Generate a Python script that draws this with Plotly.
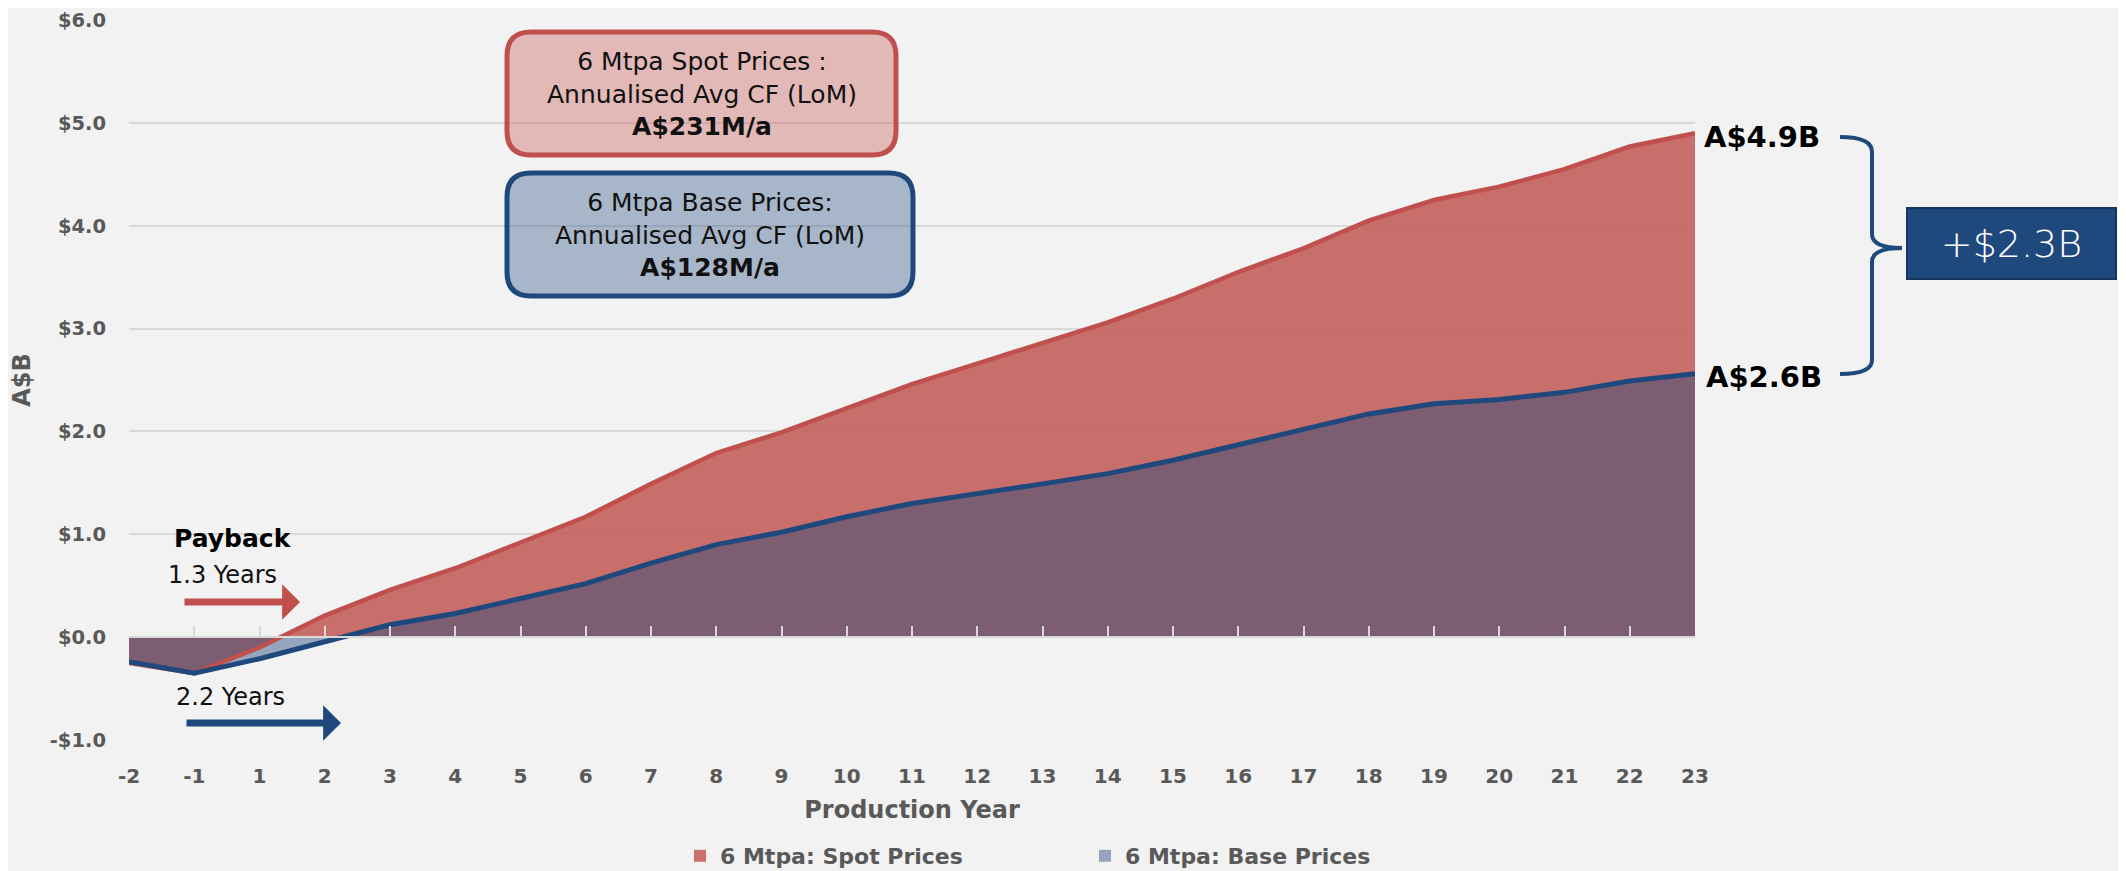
import plotly.graph_objects as go

years = ["-2", "-1", "1", "2", "3", "4", "5", "6", "7", "8", "9", "10", "11", "12",
         "13", "14", "15", "16", "17", "18", "19", "20", "21", "22", "23"]
spot = [-0.25, -0.35, -0.10, 0.21, 0.46, 0.67, 0.92, 1.17, 1.49, 1.79, 1.99, 2.22, 2.46,
        2.66, 2.86, 3.06, 3.29, 3.55, 3.78, 4.05, 4.25, 4.38, 4.55, 4.77, 4.90]
base = [-0.24, -0.35, -0.21, -0.04, 0.12, 0.23, 0.37, 0.52, 0.72, 0.90, 1.02, 1.17, 1.30,
        1.39, 1.49, 1.59, 1.72, 1.87, 2.02, 2.17, 2.27, 2.31, 2.38, 2.49, 2.56]
ytick_vals = [-1, 0, 1, 2, 3, 4, 5, 6]
ytick_text = ["-$1.0", "$0.0", "$1.0", "$2.0", "$3.0", "$4.0", "$5.0", "$6.0"]
spot_name = "6 Mtpa: Spot Prices"
base_name = "6 Mtpa: Base Prices"
spot_label = "A$4.9B"
base_label = "A$2.6B"
diff_label = "+$2.3B"
spot_box = "6 Mtpa Spot Prices :<br>Annualised Avg CF (LoM)<br><b>A$231M/a</b>"
base_box = "6 Mtpa Base Prices:<br>Annualised Avg CF (LoM)<br><b>A$128M/a</b>"

# page offset (browser body margin) compensation
OFF = 8
W, H = 2126 - OFF, 871 - OFF
L, R, T, B = 129 - OFF, 1695 - OFF, 20 - OFF, 740 - OFF
FONT = "DejaVu Sans"
GRAY = "#595959"
RED = "#C0504D"
BLUE = "#1F497D"


def px(x):
    return (x - OFF - L) / (R - L)


def py(y):
    return (B - (y - OFF)) / (B - T)


def pt(x, y):
    return f"{px(x):.5f},{py(y):.5f}"


def rrect(x0, y0, x1, y1, r):
    return (f"M{pt(x0 + r, y0)} L{pt(x1 - r, y0)} Q{pt(x1, y0)} {pt(x1, y0 + r)} "
            f"L{pt(x1, y1 - r)} Q{pt(x1, y1)} {pt(x1 - r, y1)} L{pt(x0 + r, y1)} "
            f"Q{pt(x0, y1)} {pt(x0, y1 - r)} L{pt(x0, y0 + r)} Q{pt(x0, y0)} {pt(x0 + r, y0)} Z")


def txt(x, y, text, size, color="#111111", **kw):
    d = dict(xref="paper", yref="paper", x=px(x), y=py(y), text=text, showarrow=False,
             xanchor="center", yanchor="middle",
             font=dict(family=FONT, size=size, color=color))
    d.update(kw)
    return d


fig = go.Figure()
fig.add_trace(go.Scatter(x=years, y=spot, mode="none", fill="tozeroy",
                         fillcolor="rgba(196,99,96,0.92)", showlegend=False, hoverinfo="skip"))
fig.add_trace(go.Scatter(x=years, y=base, mode="none", fill="tozeroy",
                         fillcolor="rgba(31,73,125,0.45)", showlegend=False, hoverinfo="skip"))
fig.add_trace(go.Scatter(x=years, y=spot, mode="lines", line=dict(color=RED, width=4.5),
                         showlegend=False))
fig.add_trace(go.Scatter(x=years, y=base, mode="lines", line=dict(color=BLUE, width=5),
                         showlegend=False))
# legend entries
fig.add_trace(go.Scatter(x=[None], y=[None], mode="markers", name=spot_name,
                         marker=dict(symbol="square", size=14, color="#C9716F")))
fig.add_trace(go.Scatter(x=[None], y=[None], mode="markers", name=base_name,
                         marker=dict(symbol="square", size=14, color="#95A5BD")))
# helper axis for ticks on the zero line
fig.add_trace(go.Scatter(x=[0, 24], y=[None, None], xaxis="x2", mode="lines",
                         showlegend=False, hoverinfo="skip"))

shapes = [
    dict(type="path", xref="paper", yref="paper", path=rrect(507, 32, 896, 155, 24),
         line=dict(color=RED, width=5), fillcolor="rgba(200,80,77,0.35)", layer="above"),
    dict(type="path", xref="paper", yref="paper", path=rrect(507, 173, 913, 296, 24),
         line=dict(color=BLUE, width=5), fillcolor="rgba(31,73,125,0.35)", layer="above"),
    dict(type="path", xref="paper", yref="paper",
         path=(f"M{pt(1840, 137)} Q{pt(1872, 137)} {pt(1872, 152)} L{pt(1872, 234)} "
               f"Q{pt(1872, 248)} {pt(1902, 248)} M{pt(1902, 248)} Q{pt(1872, 248)} {pt(1872, 262)} "
               f"L{pt(1872, 360)} Q{pt(1872, 374)} {pt(1840, 374)}"),
         line=dict(color=BLUE, width=4)),
]

last = len(years) - 1
annotations = [
    txt(701.5, 94, spot_box, 25),
    txt(710, 235, base_box, 25),
    dict(xref="x", yref="y", x=last, y=spot[-1], text=f"<b>{spot_label}</b>",
         showarrow=False, xanchor="left", yanchor="middle", xshift=7, yshift=-4,
         font=dict(family=FONT, size=29, color="#000000")),
    dict(xref="x", yref="y", x=last, y=base[-1], text=f"<b>{base_label}</b>",
         showarrow=False, xanchor="left", yanchor="middle", xshift=9, yshift=-3,
         font=dict(family=FONT, size=29, color="#000000")),
    dict(xref="paper", yref="paper", x=px(2011.5), y=py(243.5), text=diff_label,
         xanchor="center", yanchor="middle",
         showarrow=False, width=205, height=67, bgcolor=BLUE, bordercolor="#17365D",
         borderwidth=2, font=dict(family=FONT, size=38, color="white", weight=300)),
    txt(233, 538, "<b>Payback</b>", 25, "#000000"),
    txt(222, 575, "1.3 Years", 24),
    txt(230, 697, "2.2 Years", 24),
    dict(xref="paper", yref="paper", x=px(300), y=py(602), ax=-117, ay=0, text="",
         showarrow=True, arrowhead=1, arrowsize=0.85, arrowwidth=7, arrowcolor=RED),
    dict(xref="paper", yref="paper", x=px(341), y=py(723), ax=-156, ay=0, text="",
         showarrow=True, arrowhead=1, arrowsize=0.85, arrowwidth=7, arrowcolor=BLUE),
]

fig.update_layout(
    width=W, height=H,
    margin=dict(l=L, r=W - R, t=T, b=H - B, autoexpand=False),
    paper_bgcolor="#F2F2F2", plot_bgcolor="#F2F2F2",
    font=dict(family=FONT, color=GRAY),
    xaxis=dict(type="category", range=[0, 24], showgrid=False, showline=False,
               ticks="", ticklabelstandoff=22, zeroline=False, automargin=False,
               tickfont=dict(family=FONT, size=20, color=GRAY, weight="bold"),
               title=dict(text="<b>Production Year</b>", standoff=14,
                          font=dict(family=FONT, size=24, color=GRAY))),
    xaxis2=dict(overlaying="x", anchor="free", position=1 / 7, range=[0, 24],
                tick0=0, dtick=1, ticks="inside", ticklen=10, tickwidth=2,
                tickcolor="#D9D9D9", showline=True, linecolor="#D9D9D9", linewidth=2,
                showticklabels=False, showgrid=False, zeroline=False, layer="above traces"),
    yaxis=dict(range=[-1, 6], tickvals=ytick_vals, ticktext=ytick_text, showgrid=True,
               gridcolor="#D9D9D9", gridwidth=2, zeroline=False, ticks="",
               ticklabelstandoff=22, automargin=False,
               tickfont=dict(family=FONT, size=19.5, color=GRAY, weight="bold"),
               title=dict(text="<b>A$B</b>", standoff=20,
                          font=dict(family=FONT, size=24, color=GRAY))),
    legend=dict(orientation="h", x=px(680), xanchor="left", y=py(856), yanchor="middle",
                entrywidth=360, entrywidthmode="pixels", bgcolor="rgba(0,0,0,0)",
                font=dict(family=FONT, size=22, color=GRAY, weight="bold"),
                itemsizing="constant"),
    shapes=shapes,
    annotations=annotations,
    showlegend=True,
)

fig.write_html("out.html")
